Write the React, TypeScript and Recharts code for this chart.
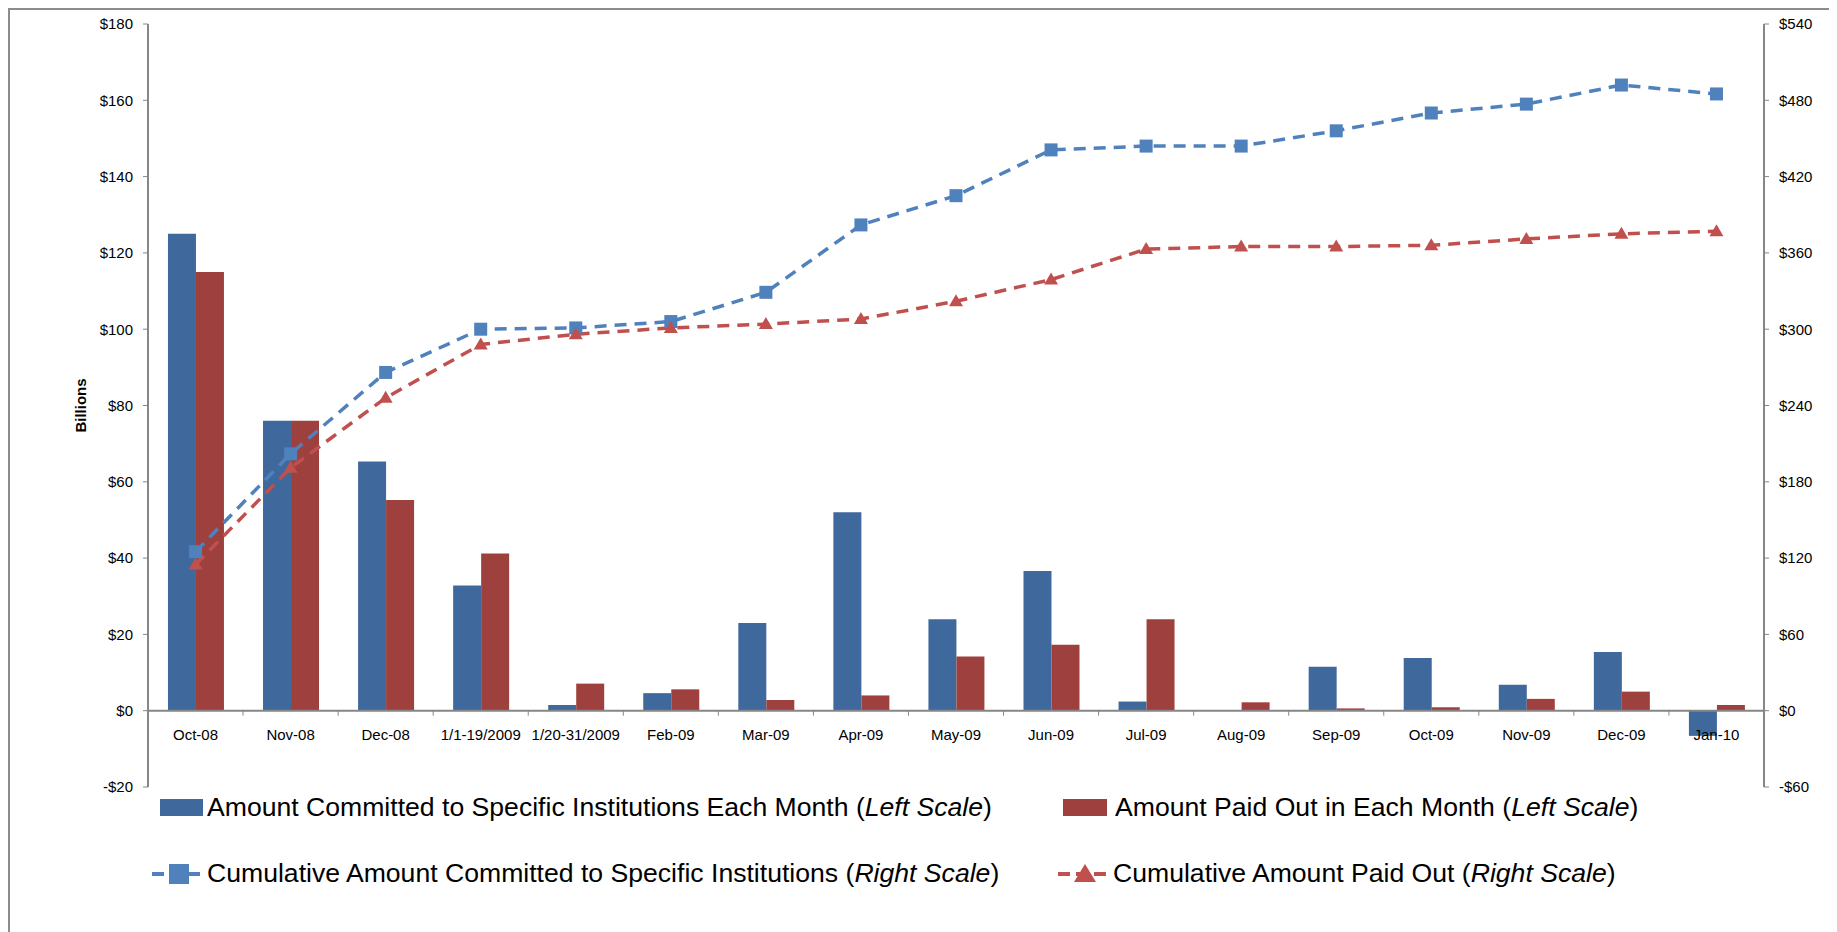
import * as React from "react";
import {
  ComposedChart,
  Bar,
  Line,
  XAxis,
  YAxis,
  ReferenceLine,
  Label,
} from "recharts";

const categories = [
  "Oct-08", "Nov-08", "Dec-08", "1/1-19/2009", "1/20-31/2009", "Feb-09",
  "Mar-09", "Apr-09", "May-09", "Jun-09", "Jul-09", "Aug-09", "Sep-09",
  "Oct-09", "Nov-09", "Dec-09", "Jan-10",
];

// monthly amounts, left scale ($ billions)
const committedMonthly = [125, 76, 65.3, 32.8, 1.5, 4.6, 23, 52, 24, 36.6, 2.4, 0, 11.5, 13.8, 6.8, 15.4, -6.6];
const paidMonthly = [115, 76, 55.2, 41.2, 7.1, 5.6, 2.8, 4.0, 14.2, 17.3, 24, 2.2, 0.6, 0.9, 3.1, 5.0, 1.5];

// cumulative amounts, right scale ($ billions)
const committedCumulative = [125, 202, 266, 300, 301, 306, 329, 382, 405, 441, 444, 444, 456, 470, 477, 492, 485];
const paidCumulative = [115, 191, 246, 288, 296, 301, 304, 308, 322, 339, 363, 365, 365, 366, 371, 375, 377];

const leftTicks = [-20, 0, 20, 40, 60, 80, 100, 120, 140, 160, 180];
const rightTicks = [-60, 0, 60, 120, 180, 240, 300, 360, 420, 480, 540];

const data = categories.map((cat, i) => ({
  cat,
  committed: committedMonthly[i],
  paid: paidMonthly[i],
  committedCum: committedCumulative[i],
  paidCum: paidCumulative[i],
}));

const FONT = '"Liberation Sans", Arial, sans-serif';
const AXIS = "#868686";
const BLUE_BAR = "#3F689C";
const RED_BAR = "#9E413E";
const BLUE_LINE = "#4F81BD";
const RED_LINE = "#C0504D";

const CHART_W = 1822;
const CHART_H = 790;
const MARGIN = { top: 14, right: 2, bottom: 12, left: 68 };
const LEFT_W = 70;
const RIGHT_W = 66;
const XAXIS_H = 1;
const PLOT_W = CHART_W - MARGIN.left - MARGIN.right - LEFT_W - RIGHT_W;
const PLOT_H = CHART_H - MARGIN.top - MARGIN.bottom - XAXIS_H;
const BAND = PLOT_W / categories.length;
const ZERO_FRAC = (0 - leftTicks[0]) / (leftTicks[leftTicks.length - 1] - leftTicks[0]);

const money = (v: number) => (v < 0 ? `-$${-v}` : `$${v}`);

function CategoryTick(props: any) {
  const { x, y, payload, index } = props;
  const zeroY = y - PLOT_H * ZERO_FRAC;
  const half = BAND / 2;
  return (
    <g>
      <line x1={x - half} x2={x - half} y1={zeroY} y2={zeroY + 5} stroke={AXIS} strokeWidth={1} />
      {index === categories.length - 1 && (
        <line x1={x + half} x2={x + half} y1={zeroY} y2={zeroY + 5} stroke={AXIS} strokeWidth={1} />
      )}
      <text
        x={x}
        y={zeroY + 24}
        textAnchor="middle"
        dominantBaseline="central"
        fontSize={15}
        fontFamily={FONT}
        fill="#000"
      >
        {payload.value}
      </text>
    </g>
  );
}

function SquareDot(props: any) {
  const { cx, cy } = props;
  if (cx == null || cy == null) return null;
  return <rect x={cx - 6.5} y={cy - 6.5} width={13} height={13} fill={BLUE_LINE} />;
}

function TriangleDot(props: any) {
  const { cx, cy } = props;
  if (cx == null || cy == null) return null;
  return (
    <path
      d={`M${cx},${cy - 7} L${cx + 7},${cy + 5} L${cx - 7},${cy + 5} Z`}
      fill={RED_LINE}
    />
  );
}

function LegendText({ text, scale }: { text: string; scale: string }) {
  return (
    <span>
      {text} (<i>{scale}</i>)
    </span>
  );
}

function LineIcon({ color, marker }: { color: string; marker: "square" | "triangle" }) {
  return (
    <svg width={56} height={24} style={{ display: "block" }}>
      <line x1={1} x2={55} y1={12} y2={12} stroke={color} strokeWidth={4} strokeDasharray="12 6" />
      {marker === "square" ? (
        <rect x={18} y={2} width={20} height={20} fill={color} />
      ) : (
        <path d="M28,2 L39,20 L17,20 Z" fill={color} />
      )}
    </svg>
  );
}

export default function App() {
  const legendRow: React.CSSProperties = {
    position: "absolute",
    display: "flex",
    alignItems: "center",
    fontSize: 26.6,
    fontFamily: FONT,
    color: "#000",
    whiteSpace: "nowrap",
  };
  return (
    <div
      style={{
        position: "relative",
        width: CHART_W,
        height: 922,
        border: "2px solid #8c8c8c",
        background: "#fff",
        fontFamily: FONT,
      }}
    >
      <ComposedChart
        width={CHART_W}
        height={CHART_H}
        data={data}
        margin={MARGIN}
        barCategoryGap="21%"
        barGap={0}
      >
        <XAxis
          dataKey="cat"
          height={XAXIS_H}
          axisLine={false}
          tickLine={false}
          tickSize={0}
          tickMargin={0}
          interval={0}
          tick={<CategoryTick />}
        />
        <YAxis
          yAxisId="left"
          width={LEFT_W}
          domain={[leftTicks[0], leftTicks[leftTicks.length - 1]]}
          ticks={leftTicks}
          tickFormatter={money}
          axisLine={{ stroke: AXIS, strokeWidth: 2 }}
          tickLine={{ stroke: AXIS, strokeWidth: 1 }}
          tickSize={5}
          tickMargin={10}
          tick={{ fontSize: 15, fill: "#000", fontFamily: FONT }}
          interval={0}
        >
          <Label
            content={(p: any) => {
              const vb = p.viewBox || { x: 68, y: 14, width: LEFT_W, height: PLOT_H };
              const cx = vb.x + 2;
              const cy = vb.y + vb.height / 2;
              return (
                <text
                  x={cx}
                  y={cy}
                  transform={`rotate(-90, ${cx}, ${cy})`}
                  textAnchor="middle"
                  dominantBaseline="central"
                  fontSize={15}
                  fontWeight="bold"
                  fontFamily={FONT}
                  fill="#000"
                >
                  Billions
                </text>
              );
            }}
          />
        </YAxis>
        <YAxis
          yAxisId="right"
          orientation="right"
          width={RIGHT_W}
          domain={[rightTicks[0], rightTicks[rightTicks.length - 1]]}
          ticks={rightTicks}
          tickFormatter={money}
          axisLine={{ stroke: AXIS, strokeWidth: 2 }}
          tickLine={{ stroke: AXIS, strokeWidth: 1 }}
          tickSize={5}
          tickMargin={10}
          tick={{ fontSize: 15, fill: "#000", fontFamily: FONT }}
          interval={0}
        />
        <Bar yAxisId="left" dataKey="committed" fill={BLUE_BAR} isAnimationActive={false} />
        <Bar yAxisId="left" dataKey="paid" fill={RED_BAR} isAnimationActive={false} />
        <ReferenceLine yAxisId="left" y={0} stroke={AXIS} strokeWidth={2} />
        <Line
          yAxisId="right"
          type="linear"
          dataKey="committedCum"
          stroke={BLUE_LINE}
          strokeWidth={3.5}
          strokeDasharray="12 8"
          dot={<SquareDot />}
          activeDot={false}
          isAnimationActive={false}
        />
        <Line
          yAxisId="right"
          type="linear"
          dataKey="paidCum"
          stroke={RED_LINE}
          strokeWidth={3.5}
          strokeDasharray="12 8"
          dot={<TriangleDot />}
          activeDot={false}
          isAnimationActive={false}
        />
      </ComposedChart>

      <div style={{ ...legendRow, left: 150, top: 782 }}>
        <div style={{ width: 43, height: 17, background: BLUE_BAR, marginRight: 4 }} />
        <LegendText text="Amount Committed to Specific Institutions Each Month" scale="Left Scale" />
      </div>
      <div style={{ ...legendRow, left: 1053, top: 782 }}>
        <div style={{ width: 44, height: 17, background: RED_BAR, marginRight: 8 }} />
        <LegendText text="Amount Paid Out in Each Month" scale="Left Scale" />
      </div>
      <div style={{ ...legendRow, left: 141, top: 848 }}>
        <LineIcon color={BLUE_LINE} marker="square" />
        <LegendText text="Cumulative Amount Committed to Specific Institutions" scale="Right Scale" />
      </div>
      <div style={{ ...legendRow, left: 1047, top: 848 }}>
        <LineIcon color={RED_LINE} marker="triangle" />
        <LegendText text="Cumulative Amount Paid Out" scale="Right Scale" />
      </div>
    </div>
  );
}
